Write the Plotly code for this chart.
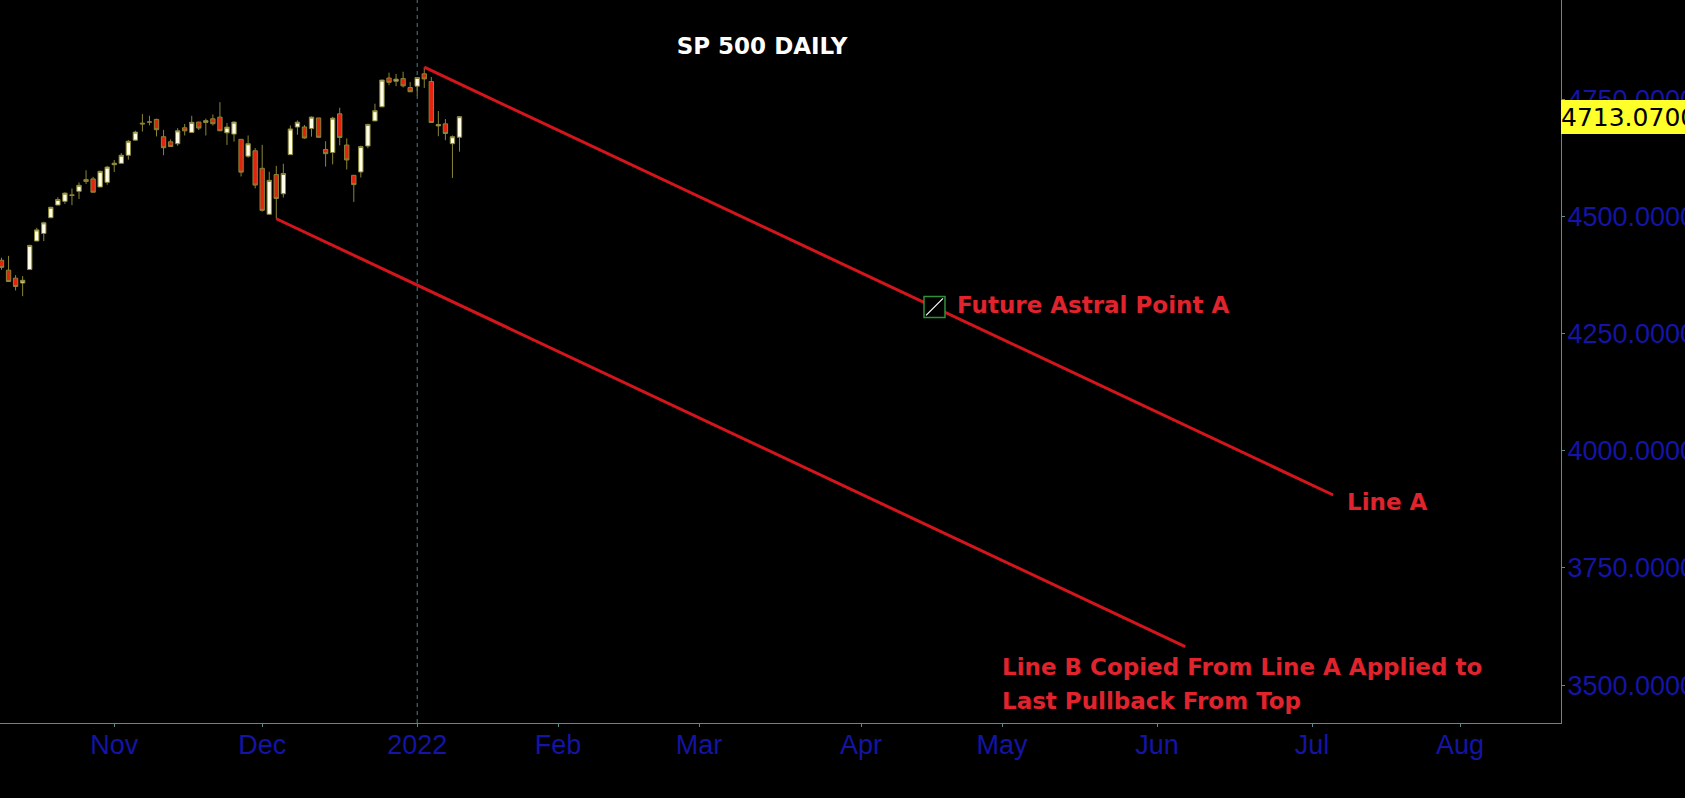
import plotly.graph_objects as go

# ---------------- data ----------------
dates = ["2021-10-08","2021-10-11","2021-10-12","2021-10-13","2021-10-14","2021-10-15",
         "2021-10-18","2021-10-19","2021-10-20","2021-10-21","2021-10-22",
         "2021-10-25","2021-10-26","2021-10-27","2021-10-28","2021-10-29",
         "2021-11-01","2021-11-02","2021-11-03","2021-11-04","2021-11-05",
         "2021-11-08","2021-11-09","2021-11-10","2021-11-11","2021-11-12",
         "2021-11-15","2021-11-16","2021-11-17","2021-11-18","2021-11-19",
         "2021-11-22","2021-11-23","2021-11-24","2021-11-26",
         "2021-11-29","2021-11-30","2021-12-01","2021-12-02","2021-12-03",
         "2021-12-06","2021-12-07","2021-12-08","2021-12-09","2021-12-10",
         "2021-12-13","2021-12-14","2021-12-15","2021-12-16","2021-12-17",
         "2021-12-20","2021-12-21","2021-12-22","2021-12-23",
         "2021-12-27","2021-12-28","2021-12-29","2021-12-30","2021-12-31",
         "2022-01-03","2022-01-04","2022-01-05","2022-01-06","2022-01-07",
         "2022-01-10","2022-01-11"]
opens = [4406.51,4385.44,4368.31,4358.01,4386.75,4447.69,
         4463.72,4497.34,4524.42,4532.24,4546.12,
         4553.69,4578.69,4580.22,4562.84,4572.87,
         4610.62,4613.34,4630.65,4662.93,4699.26,
         4701.48,4707.25,4670.26,4659.39,4655.24,
         4689.30,4679.42,4701.50,4700.72,4708.44,
         4712.00,4678.48,4675.78,4664.63,
         4628.75,4640.25,4602.82,4504.73,4589.49,
         4548.37,4631.97,4690.86,4691.00,4687.64,
         4710.30,4642.99,4636.46,4719.13,4652.50,
         4587.90,4594.96,4650.36,4703.96,
         4733.99,4795.49,4788.64,4794.23,4775.21,
         4778.14,4804.51,4787.99,4693.39,4697.66,
         4655.34,4669.14]
highs = [4412.02,4415.88,4374.89,4372.87,4439.73,4475.82,
         4488.75,4520.40,4540.87,4551.44,4559.67,
         4572.62,4598.53,4584.57,4597.55,4608.08,
         4620.34,4635.15,4663.46,4683.00,4718.50,
         4714.92,4708.53,4684.85,4664.55,4688.47,
         4697.42,4714.95,4701.50,4708.80,4717.75,
         4743.83,4699.39,4702.87,4664.63,
         4672.95,4646.02,4652.94,4595.46,4608.03,
         4612.60,4694.04,4705.06,4695.26,4713.57,
         4710.30,4660.47,4712.60,4731.99,4666.70,
         4587.90,4651.14,4697.67,4740.74,
         4791.49,4807.02,4804.06,4808.93,4786.83,
         4796.64,4818.62,4797.70,4725.01,4707.95,
         4673.02,4714.13]
lows = [4386.22,4360.59,4342.09,4329.92,4386.75,4447.69,
        4447.47,4496.41,4524.40,4526.89,4524.00,
        4537.36,4569.17,4551.66,4562.84,4567.59,
        4595.06,4613.34,4621.19,4662.59,4681.32,
        4694.39,4670.87,4630.86,4648.31,4650.77,
        4672.86,4679.42,4684.41,4672.78,4694.22,
        4682.17,4652.66,4659.89,4585.43,
        4625.26,4560.00,4510.27,4504.73,4495.12,
        4540.51,4631.97,4674.52,4665.98,4670.24,
        4667.60,4606.52,4611.22,4651.89,4600.22,
        4531.10,4583.16,4645.53,4703.96,
        4733.99,4780.04,4778.08,4775.33,4765.75,
        4758.17,4774.27,4699.44,4671.26,4662.74,
        4582.24,4638.27]
closes = [4391.34,4361.19,4350.65,4363.80,4438.26,4471.37,
          4486.46,4519.63,4536.19,4549.78,4544.90,
          4566.48,4574.79,4551.68,4596.42,4605.38,
          4613.67,4630.65,4660.57,4680.06,4697.53,
          4701.70,4685.25,4646.71,4649.27,4682.85,
          4682.80,4700.90,4688.67,4704.54,4697.96,
          4682.94,4690.70,4701.46,4594.62,
          4655.27,4567.00,4513.04,4577.10,4538.43,
          4591.67,4686.75,4701.21,4667.45,4712.02,
          4668.97,4634.09,4709.85,4668.67,4620.64,
          4568.02,4649.23,4696.56,4725.79,
          4791.19,4786.35,4793.06,4778.73,4766.18,
          4796.56,4793.54,4700.58,4696.05,4677.03,
          4670.29,4713.07]

holidays = ["2021-11-25", "2021-12-24", "2022-01-17", "2022-04-15"]

month_tick_dates = ["2021-11-01","2021-12-01","2022-01-03","2022-02-01","2022-03-01",
                    "2022-04-01","2022-05-02","2022-06-01","2022-07-01","2022-08-01"]
month_tick_labels = ["Nov","Dec","2022","Feb","Mar","Apr","May","Jun","Jul","Aug"]

price_ticks = [3500, 3750, 4000, 4250, 4500, 4750]

line_a_dates = ["2022-01-04", "2022-07-06"]
line_a_values = [4818.62, 3905.6]
line_b_dates = ["2021-12-03", "2022-06-07"]
line_b_values = [4495.12, 3582.0]

astral_date = ["2022-04-18 10:00"]
astral_value = [4307.0]

year_marker_date = "2022-01-03"
last_price = 4713.07

x_range = ["2021-10-07 18:53", "2022-08-19 08:00"]
y_range = [3419, 4962]

# ---------------- style ----------------
AXIS_COL = "#5b8c8c"
TICK_BLUE = "#1414a6"
RED_LINE = "#d4161c"
RED_TEXT = "#e1232d"
WICK = "#8a8636"

fig = go.Figure()

fig.add_trace(go.Candlestick(
    x=dates, open=opens, high=highs, low=lows, close=closes,
    increasing=dict(line=dict(color=WICK, width=1), fillcolor="#fffde6"),
    decreasing=dict(line=dict(color=WICK, width=1), fillcolor="#e4220e"),
    whiskerwidth=0, showlegend=False, hoverinfo="skip"))

fig.add_trace(go.Scatter(x=line_a_dates, y=line_a_values, mode="lines",
                         line=dict(color=RED_LINE, width=3), showlegend=False, hoverinfo="skip"))
fig.add_trace(go.Scatter(x=line_b_dates, y=line_b_values, mode="lines",
                         line=dict(color=RED_LINE, width=3), showlegend=False, hoverinfo="skip"))

# astral point marker (hatched square)
fig.add_trace(go.Scatter(x=astral_date, y=astral_value, mode="markers",
                         marker=dict(symbol="square", size=21, color="black",
                                     line=dict(color="#2f8f3a", width=1.5)),
                         showlegend=False, hoverinfo="skip"))
fig.add_trace(go.Scatter(x=astral_date, y=astral_value, mode="markers",
                         marker=dict(symbol="line-ne", size=17,
                                     line=dict(color="white", width=1.2)),
                         showlegend=False, hoverinfo="skip"))

fig.add_shape(type="line", xref="x", yref="paper", x0=year_marker_date, x1=year_marker_date,
              y0=0, y1=1, line=dict(color="#4e8080", width=1, dash="4px,4px"), layer="below")

PW, PH = 1561, 723

def px_x(p):
    return p / PW

def px_y(p):
    return 1 - p / PH

text_font = dict(family="DejaVu Sans", size=23, color=RED_TEXT)
fig.add_annotation(text="<b>Future Astral Point A</b>", xref="paper", yref="paper",
                   x=px_x(955), y=px_y(305), xanchor="left", yanchor="middle",
                   showarrow=False, font=text_font)
fig.add_annotation(text="<b>Line A</b>", xref="paper", yref="paper",
                   x=px_x(1345), y=px_y(502), xanchor="left", yanchor="middle",
                   showarrow=False, font=text_font)
fig.add_annotation(text="<b>Line B Copied From Line A Applied to</b>", xref="paper", yref="paper",
                   x=px_x(1000), y=px_y(667), xanchor="left", yanchor="middle",
                   showarrow=False, font=text_font)
fig.add_annotation(text="<b>Last Pullback From Top</b>", xref="paper", yref="paper",
                   x=px_x(1000), y=px_y(701), xanchor="left", yanchor="middle",
                   showarrow=False, font=text_font)

fig.add_annotation(text=f"{last_price:.4f}", xref="paper", yref="y",
                   x=1, y=last_price, xanchor="left", yanchor="middle",
                   showarrow=False, bgcolor="#ffff2a", borderpad=0, borderwidth=0,
                   height=34, width=145, align="left",
                   font=dict(family="DejaVu Sans", size=25, color="black"))

fig.update_layout(
    width=1685, height=798,
    paper_bgcolor="black", plot_bgcolor="black",
    margin=dict(l=0, r=1685 - PW, t=0, b=798 - PH),
    boxgap=0.12,
    title=dict(text="<b>SP 500 DAILY</b>", x=762 / 1685, y=1 - 46 / 798,
               xanchor="center", yanchor="middle",
               font=dict(family="DejaVu Sans", size=23, color="white")),
    xaxis=dict(type="date", range=x_range,
               rangebreaks=[dict(bounds=["sat", "mon"]), dict(values=holidays)],
               rangeslider=dict(visible=False),
               tickvals=month_tick_dates, ticktext=month_tick_labels,
               showgrid=False, zeroline=False, showline=True, linecolor=AXIS_COL, linewidth=1,
               ticks="outside", ticklen=3, tickcolor=AXIS_COL,
               ticklabelstandoff=-5,
               tickfont=dict(family="Liberation Sans", size=27, color=TICK_BLUE),
               automargin=False),
    yaxis=dict(range=y_range, side="right", tickvals=price_ticks, tickformat=".4f",
               showgrid=False, zeroline=False, showline=True, linecolor=AXIS_COL, linewidth=1,
               ticks="outside", ticklen=3, tickcolor=AXIS_COL,
               ticklabelstandoff=-3,
               tickfont=dict(family="Liberation Sans", size=27, color=TICK_BLUE),
               automargin=False),
    showlegend=False,
)

fig.write_html("out.html", config={"displayModeBar": False},
               post_script="document.body.style.margin='0';document.body.style.overflow='hidden';")
